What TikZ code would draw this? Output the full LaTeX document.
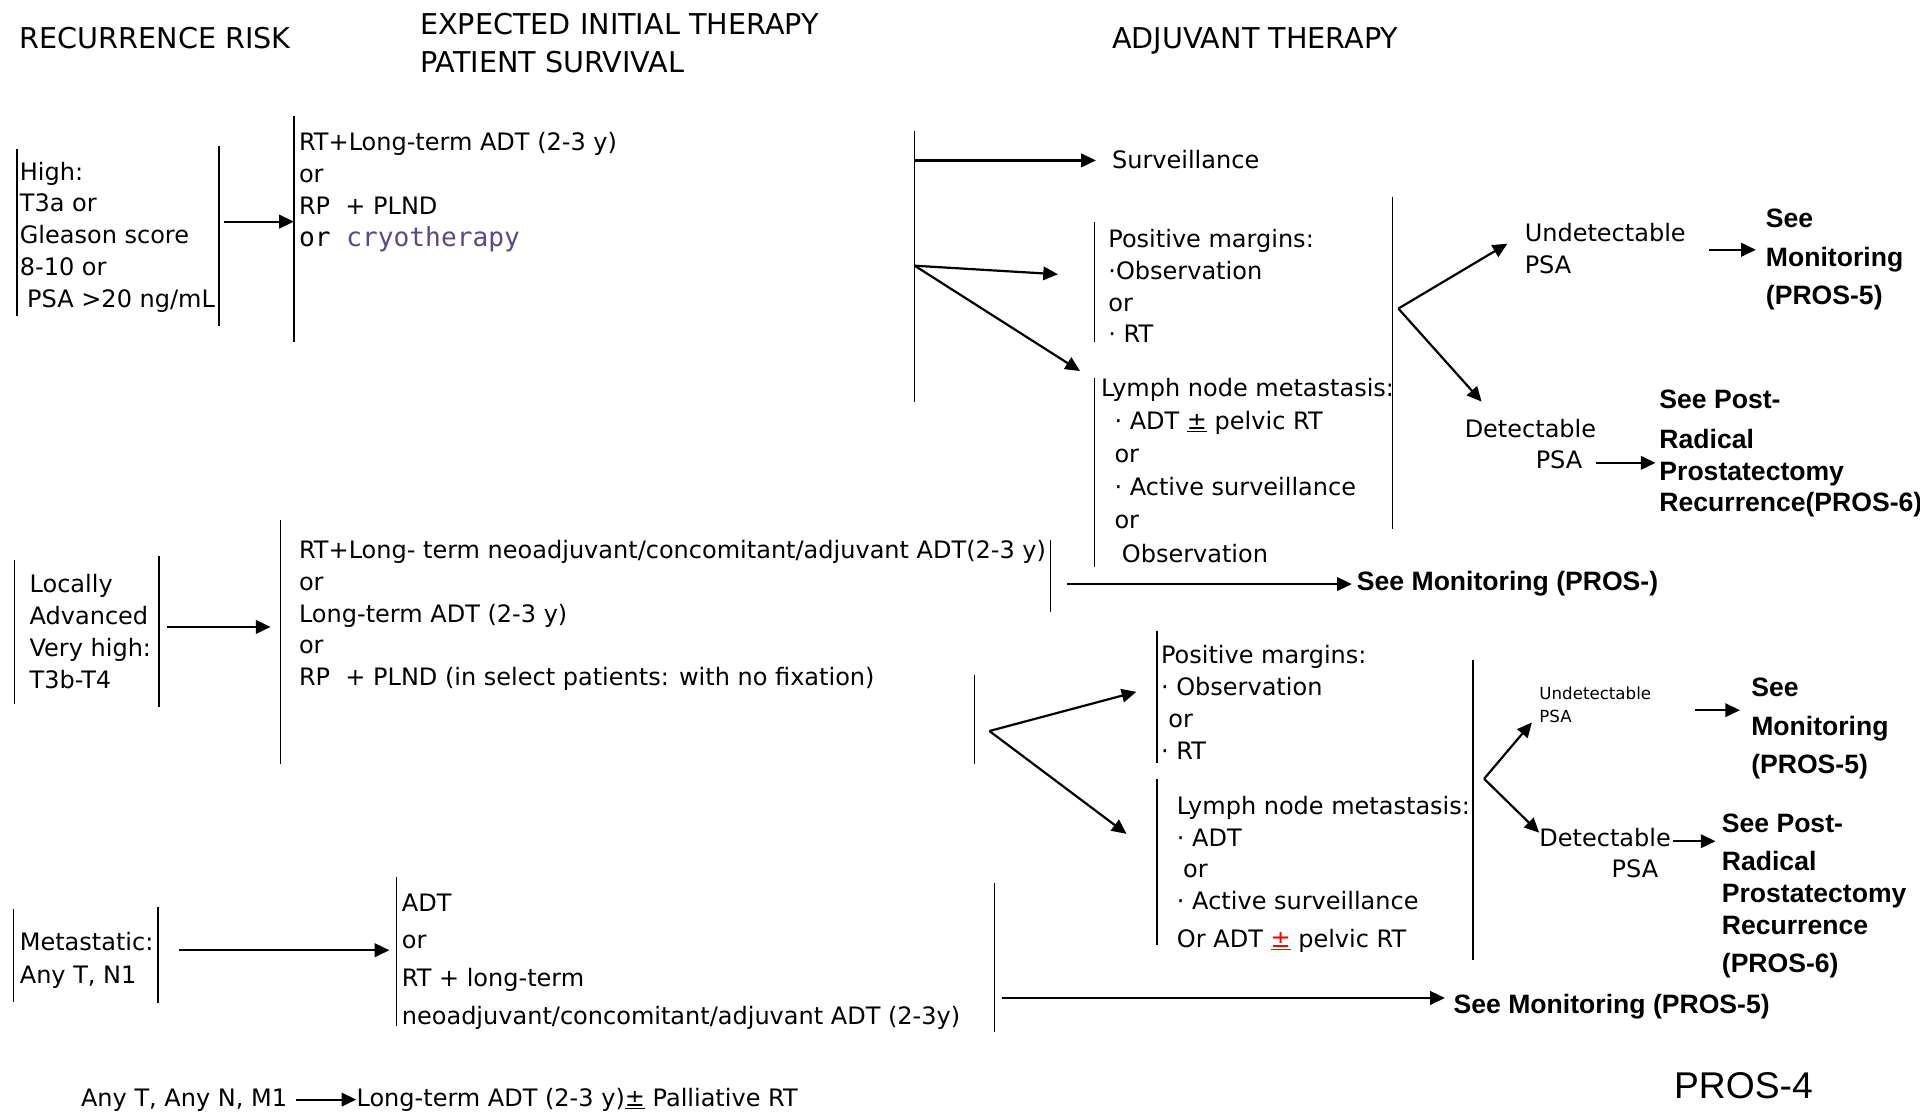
\documentclass[tikz,border=0pt]{standalone}
\usepackage{fontspec}
\usetikzlibrary{arrows.meta}
\setmainfont{DejaVu Sans}
\newfontfamily\arialf{Liberation Sans}
\newfontfamily\monof{DejaVu Sans Mono}
\definecolor{cryo}{RGB}{91,74,128}
\tikzset{
  txt/.style={anchor=base west, inner sep=0pt, align=left, font=\fontsize{19.6}{26}\selectfont},
  txtb/.style={txt, font=\fontsize{19.6}{27}\selectfont},
  txtc/.style={txt, font=\fontsize{19.6}{31}\selectfont},
  hdr/.style={anchor=base west, inner sep=0pt, align=left, font=\fontsize{23.4}{31}\selectfont},
  bld/.style={anchor=base west, inner sep=0pt, align=left, font=\arialf\bfseries\fontsize{21.7}{31.5}\selectfont},
  bldb/.style={bld, font=\arialf\bfseries\fontsize{21.7}{26}\selectfont},
  small/.style={anchor=base west, inner sep=0pt, align=left, font=\fontsize{13.6}{19}\selectfont},
  bar/.style={line width=1.15pt},
  arr/.style={line width=1.8pt, -{Triangle[length=12pt,width=11pt]}}
}
\begin{document}
\begin{tikzpicture}[x=1pt,y=-1pt]
\useasboundingbox (0,0) rectangle (1568,912);
\fill[white] (0,0) rectangle (1568,912);

% headers (base = last line)
\node[hdr] (h1) at (16,40) {RECURRENCE RISK};
\node[hdr] (h2) at (343,59) {EXPECTED INITIAL THERAPY\\PATIENT SURVIVAL};
\node[hdr] (h3) at (908,40) {ADJUVANT THERAPY};

% ---------- Row 1 ----------
\draw[bar] (14,122) -- (14,258);
\draw[bar] (179,119) -- (179,266);
\node[txt] (high) at (16,251) {High:\\T3a or\\Gleason score\\8-10 or\\\hspace*{6pt}PSA >20 ng/mL};
\coordinate (a1s) at (183,181); \coordinate (a1e) at (240,181);
\draw[arr] (a1s) -- (a1e);
\draw[bar] (240,95) -- (240,279);
\node[txt] (ther1) at (244,201) {RT+Long-term ADT (2-3 y)\\or\\RP\ \ + PLND\\{\monof\fontsize{21.4}{26}\selectfont or \textcolor{cryo}{cryotherapy}}};
\draw[bar] (747,107) -- (747,328);
\coordinate (b1) at (747,131); \coordinate (b2) at (747,217);
\node[txt] (surv) at (908,138) {Surveillance};
\coordinate (surve) at (895,131);
\draw[arr] (b1) -- (surve);
\coordinate (pm1e) at (864,224); \coordinate (ln1e) at (882,303);
\draw[arr] (b2) -- (pm1e);
\draw[arr] (b2) -- (ln1e);
\draw[bar] (894,181) -- (894,279);
\node[txt] (posm1) at (905,280) {Positive margins:\\·Observation\\or\\· RT};
\draw[bar] (894,309) -- (894,463);
\node[txtb] (lymph1) at (899,459) {Lymph node metastasis:\\\hspace*{11pt}· ADT \underline{±} pelvic RT\\\hspace*{11pt}or\\\hspace*{11pt}· Active surveillance\\\hspace*{11pt}or\\\hspace*{17pt}Observation};
\draw[bar] (1137,161) -- (1137,432);
\coordinate (c1) at (1142,252);
\coordinate (u1e) at (1231,199); \coordinate (d1e) at (1210,328);
\draw[arr] (c1) -- (u1e);
\draw[arr] (c1) -- (d1e);
\node[txt] (undet1) at (1245,223) {Undetectable\\PSA};
\node[txt] (det1) at (1196,383) {Detectable\\\hspace*{58pt}PSA};
\coordinate (m1s) at (1396,204); \coordinate (m1e) at (1434,204);
\draw[arr] (m1s) -- (m1e);
\node[bld] (seemon1) at (1442,249) {See\\Monitoring\\(PROS-5)};
\coordinate (p1s) at (1303,378); \coordinate (p1e) at (1352,378);
\draw[arr] (p1s) -- (p1e);
\node[bldb] (seepost1) at (1355,418) {See Post-\\[6pt]Radical\\Prostatectomy\\Recurrence(PROS-6)};

% ---------- Row 2 ----------
\draw[bar] (12,457) -- (12,575);
\draw[bar] (130,454) -- (130,577);
\node[txt] (locally) at (24,562) {Locally\\Advanced\\Very high:\\T3b-T4};
\coordinate (a2s) at (136,512); \coordinate (a2e) at (221,512);
\draw[arr] (a2s) -- (a2e);
\draw[bar] (229,425) -- (229,624);
\node[txt] (ther2) at (244,560) {RT+Long- term neoadjuvant/concomitant/adjuvant ADT(2-3 y)\\or\\Long-term ADT (2-3 y)\\or\\RP\ \ + PLND (in select patients: with no fixation)};
\draw[bar] (858,441) -- (858,500);
\coordinate (mAs) at (871,477); \coordinate (mAe) at (1104,477);
\draw[arr] (mAs) -- (mAe);
\node[bld] (seemonA) at (1108,482) {See Monitoring (PROS-)};
\draw[bar] (796,551) -- (796,624);
\coordinate (c2) at (808,597);
\coordinate (pm2e) at (928,565); \coordinate (ln2e) at (920,681);
\draw[arr] (c2) -- (pm2e);
\draw[arr] (c2) -- (ln2e);
\draw[bar] (945,515) -- (945,623);
\node[txt] (posm2) at (948,620) {Positive margins:\\· Observation\\\hspace*{6pt}or\\· RT};
\draw[bar] (945,636) -- (945,772);
\node[txt] (lymph2) at (961,774) {Lymph node metastasis:\\· ADT\\\hspace*{5pt}or\\· Active surveillance\\[5pt]Or ADT \textcolor{red}{\underline{±}} pelvic RT};
\draw[bar] (1203,539) -- (1203,784);
\coordinate (c3) at (1212,636);
\coordinate (u2e) at (1251,590); \coordinate (d2e) at (1257,680);
\draw[arr] (c3) -- (u2e);
\draw[arr] (c3) -- (d2e);
\node[small] (undet2) at (1257,590) {Undetectable\\PSA};
\node[txt] (det2) at (1257,717) {Detectable\\\hspace*{59pt}PSA};
\coordinate (m2s) at (1384,580); \coordinate (m2e) at (1421,580);
\draw[arr] (m2s) -- (m2e);
\node[bld] (seemon2) at (1430,632) {See\\Monitoring\\(PROS-5)};
\coordinate (p2s) at (1366,687); \coordinate (p2e) at (1401,687);
\draw[arr] (p2s) -- (p2e);
\node[bldb] (seepost2) at (1406,794) {See Post-\\[5pt]Radical\\Prostatectomy\\Recurrence\\[5pt](PROS-6)};

% ---------- Row 3 ----------
\draw[bar] (11,742) -- (11,818);
\draw[bar] (129,741) -- (129,819);
\node[txtb] (meta) at (16,803) {Metastatic:\\Any T, N1};
\coordinate (a3s) at (146,776); \coordinate (a3e) at (318,776);
\draw[arr] (a3s) -- (a3e);
\draw[bar] (324,716) -- (324,838);
\node[txtc] (adt) at (328,837) {ADT\\or\\RT + long-term\\neoadjuvant/concomitant/adjuvant ADT (2-3y)};
\draw[bar] (812,721) -- (812,843);
\coordinate (m3s) at (818,815); \coordinate (m3e) at (1180,815);
\draw[arr] (m3s) -- (m3e);
\node[bld] (seemon3) at (1187,828) {See Monitoring (PROS-5)};

% ---------- Row 4 ----------
\node[txt] (anyT) at (66,904) {Any T, Any N, M1};
\node[txt] (ltadt) at (291,904) {Long-term ADT (2-3 y)\underline{±} Palliative RT};
\coordinate (a4s) at (242,898); \coordinate (a4e) at (291,898);
\draw[arr] (a4s) -- (a4e);
\node[anchor=base west, inner sep=0pt, font=\arialf\fontsize{30.4}{36}\selectfont] (pros4) at (1367,897) {PROS-4};
\end{tikzpicture}
\end{document}
